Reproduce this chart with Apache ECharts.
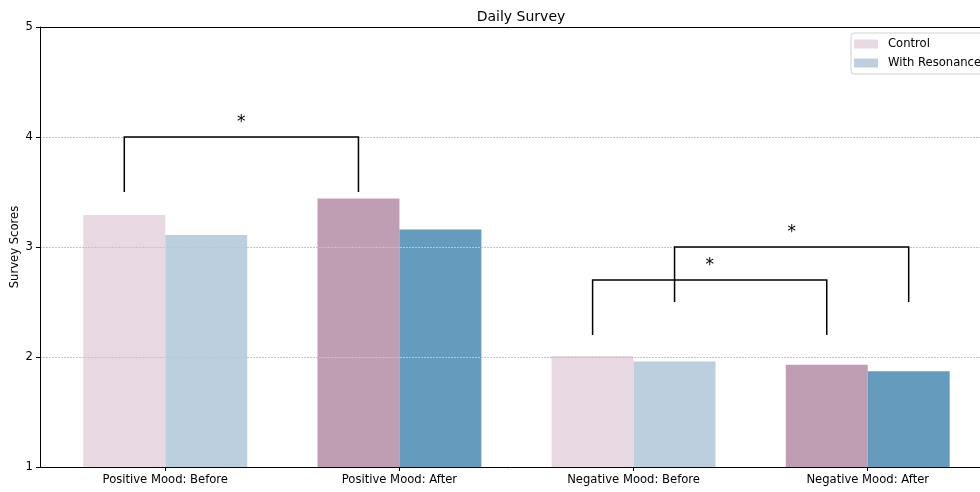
<!DOCTYPE html>
<html>
<head>
<meta charset="utf-8">
<script src="https://cdn.jsdelivr.net/npm/echarts@6/dist/echarts.min.js"></script>
<style>
  html, body { margin: 0; padding: 0; background: #fff; }
  #chart { width: 980px; height: 492px; }
</style>
</head>
<body>
<div id="chart"></div>
<script>
// Survey categories and mean scores
const categories = ['Positive Mood: Before', 'Positive Mood: After', 'Negative Mood: Before', 'Negative Mood: After'];
const controlScores = [3.29, 3.44, 2.01, 1.93];
const resonanceScores = [3.11, 3.16, 1.96, 1.87];
const controlColors = ['#e8d8e2', '#bf9eb4', '#e8d8e2', '#bf9eb4'];
const resonanceColors = ['#bccfde', '#659bbd', '#bccfde', '#659bbd'];
const yTicks = [1, 2, 3, 4, 5];

// Significance brackets: [category, group] endpoints, heights in score units
const bracketFrom = [[0, 0], [2, 0], [2, 1]];
const bracketTo = [[1, 0], [3, 0], [3, 1]];
const bracketTop = [4.0, 2.7, 3.0];
const bracketFoot = [3.5, 2.2, 2.5];
const bracketMark = ['*', '*', '*'];

const BAR_W = 0.35;
const groupOffset = [-BAR_W / 2, BAR_W / 2];

function barSeries(name, scores, colors, group) {
  return {
    name: name,
    type: 'custom',
    z: 1,
    itemStyle: { color: colors[0] },
    data: scores.map((v, i) => [i, v]),
    renderItem: function (params, api) {
      const c = api.value(0);
      const v = api.value(1);
      const center = c + groupOffset[group];
      const p0 = api.coord([center - BAR_W / 2, v]);
      const p1 = api.coord([center + BAR_W / 2, yTicks[0]]);
      return {
        type: 'rect',
        shape: { x: p0[0], y: p0[1], width: p1[0] - p0[0], height: p1[1] - p0[1] },
        style: { fill: colors[params.dataIndex] }
      };
    }
  };
}

const chart = echarts.init(document.getElementById('chart'), null, { renderer: 'canvas' });
const font = 'DejaVu Sans';
const tickSize = 11.6;
const catTicks = categories.map((_, i) => i);

chart.setOption({
  animation: false,
  textStyle: { fontFamily: font },
  title: {
    text: 'Daily Survey',
    left: 516,
    textAlign: 'center',
    top: 5,
    textStyle: { fontFamily: font, fontSize: 14, fontWeight: 'normal', color: '#000' }
  },
  legend: {
    orient: 'vertical',
    left: 851,
    top: 33,
    data: ['Control', 'With Resonance'],
    itemWidth: 24,
    itemHeight: 9,
    itemGap: 7,
    icon: 'rect',
    padding: [5, 8, 5, 3],
    borderColor: '#d0d0d0',
    borderWidth: 1,
    borderRadius: 3,
    textStyle: { fontFamily: font, fontSize: tickSize, color: '#000', padding: [0, 0, 0, 5] }
  },
  grid: {
    left: 40, top: 27, right: -13, bottom: 25,
    outerBoundsMode: 'none',
    containLabel: false,
    show: false
  },
  xAxis: [
    {
      type: 'value',
      min: -0.535,
      max: 3.535,
      z: 4,
      axisLine: { onZero: false, lineStyle: { color: '#000', width: 1 } },
      axisTick: { show: true, customValues: catTicks, length: 4, inside: false, lineStyle: { color: '#000' } },
      axisLabel: {
        customValues: catTicks,
        formatter: v => categories[Math.round(v)],
        fontFamily: font, fontSize: tickSize, color: '#000', margin: 7
      },
      splitLine: { show: false }
    },
    {
      type: 'value',
      position: 'top',
      min: -0.535,
      max: 3.535,
      z: 4,
      axisLine: { show: true, onZero: false, lineStyle: { color: '#000', width: 1 } },
      axisTick: { show: false },
      axisLabel: { show: false },
      splitLine: { show: false }
    }
  ],
  yAxis: {
    type: 'value',
    min: 1,
    max: 5,
    interval: 1,
    z: 3,
    name: 'Survey Scores',
    nameLocation: 'middle',
    nameGap: 19,
    nameMoveOverlap: false,
    nameTextStyle: { fontFamily: font, fontSize: tickSize, color: '#000' },
    axisLine: { show: true, onZero: false, lineStyle: { color: '#000', width: 1 } },
    axisTick: { show: true, length: 4, lineStyle: { color: '#000' } },
    axisLabel: { fontFamily: font, fontSize: tickSize, color: '#000', margin: 7 },
    splitLine: { show: true, lineStyle: { color: '#c4c4c4', type: [2, 1], width: 1 } }
  },
  series: [
    barSeries('Control', controlScores, controlColors, 0),
    barSeries('With Resonance', resonanceScores, resonanceColors, 1),
    {
      name: 'brackets',
      type: 'custom',
      z: 5,
      silent: true,
      clip: false,
      data: bracketTop.map((t, i) => [i, t]),
      renderItem: function (params, api) {
        const i = params.dataIndex;
        const xa = bracketFrom[i][0] + groupOffset[bracketFrom[i][1]];
        const xb = bracketTo[i][0] + groupOffset[bracketTo[i][1]];
        const a0 = api.coord([xa, bracketFoot[i]]);
        const a1 = api.coord([xa, bracketTop[i]]);
        const b1 = api.coord([xb, bracketTop[i]]);
        const b0 = api.coord([xb, bracketFoot[i]]);
        return {
          type: 'group',
          children: [
            {
              type: 'polyline',
              shape: { points: [a0, a1, b1, b0] },
              style: { stroke: '#000', lineWidth: 1.5, fill: null }
            },
            {
              type: 'text',
              style: {
                x: (a1[0] + b1[0]) / 2,
                y: a1[1] - 6,
                text: bracketMark[i],
                fontFamily: font,
                fontSize: 17,
                fill: '#000',
                align: 'center',
                verticalAlign: 'bottom'
              }
            }
          ]
        };
      }
    }
  ]
});
</script>
</body>
</html>
